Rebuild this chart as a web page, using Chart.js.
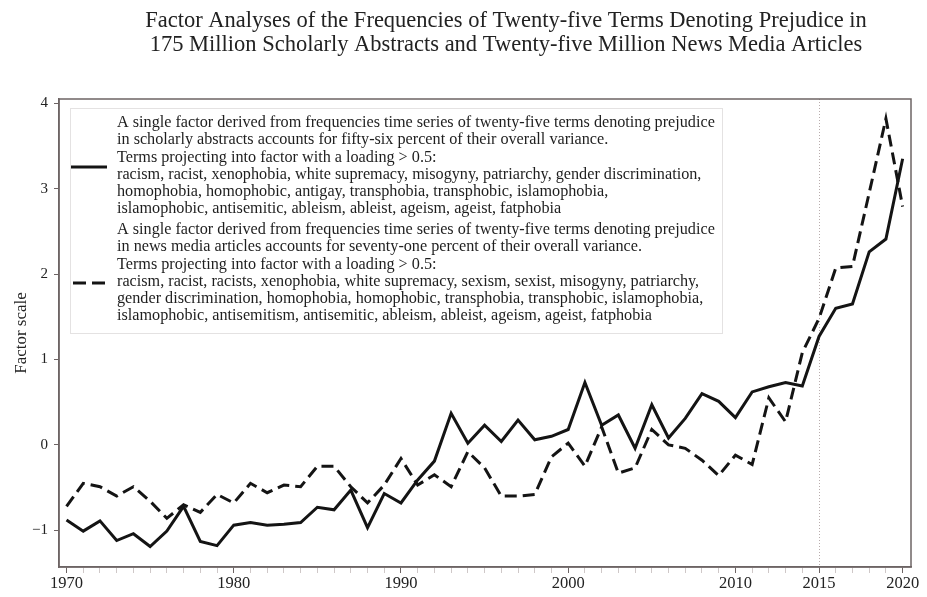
<!DOCTYPE html>
<html><head><meta charset="utf-8">
<script src="https://cdn.jsdelivr.net/npm/chart.js@4"></script>
<style>html,body{margin:0;padding:0;background:#fff}#wrap{width:927px;height:597px;position:relative}</style>
</head><body><div id="wrap"><canvas id="c" width="927" height="597"></canvas></div>
<script>
const titleLines = [
  "Factor Analyses of the Frequencies of Twenty-five Terms Denoting Prejudice in",
  "175 Million Scholarly Abstracts and Twenty-five Million News Media Articles"
];
const years = [1970,1971,1972,1973,1974,1975,1976,1977,1978,1979,1980,1981,1982,1983,1984,1985,1986,1987,1988,1989,1990,1991,1992,1993,1994,1995,1996,1997,1998,1999,2000,2001,2002,2003,2004,2005,2006,2007,2008,2009,2010,2011,2012,2013,2014,2015,2016,2017,2018,2019,2020];
const scholarly = [-0.88,-1.01,-0.89,-1.12,-1.04,-1.19,-1.01,-0.72,-1.13,-1.18,-0.94,-0.91,-0.94,-0.93,-0.91,-0.73,-0.76,-0.53,-0.97,-0.57,-0.68,-0.41,-0.19,0.37,0.02,0.23,0.04,0.29,0.06,0.10,0.18,0.73,0.23,0.35,-0.04,0.47,0.08,0.31,0.60,0.51,0.32,0.62,0.68,0.73,0.69,1.27,1.60,1.65,2.26,2.41,3.35];
const news = [-0.72,-0.45,-0.49,-0.60,-0.49,-0.66,-0.86,-0.70,-0.79,-0.58,-0.68,-0.45,-0.56,-0.47,-0.49,-0.25,-0.25,-0.49,-0.68,-0.47,-0.16,-0.47,-0.35,-0.49,-0.08,-0.27,-0.60,-0.60,-0.58,-0.14,0.02,-0.25,0.21,-0.33,-0.27,0.18,0.00,-0.04,-0.18,-0.36,-0.12,-0.23,0.55,0.27,1.08,1.48,2.07,2.09,2.95,3.82,2.79];
const labeledYears = [1970,1980,1990,2000,2010,2015,2020];
const yTickValues = [-1,0,1,2,3,4];
const markerYear = 2015;
const yAxisTitle = "Factor scale";
const seriesNames = ["Scholarly abstracts","News media articles"];
const legendScholarly = [
  "A single factor derived from frequencies time series of twenty-five terms denoting prejudice",
  "in scholarly abstracts accounts for fifty-six percent of their overall variance.",
  "Terms projecting into factor with a loading > 0.5:",
  "racism, racist, xenophobia, white supremacy, misogyny, patriarchy, gender discrimination,",
  "homophobia, homophobic, antigay, transphobia, transphobic, islamophobia,",
  "islamophobic, antisemitic, ableism, ableist, ageism, ageist, fatphobia"
];
const legendNews = [
  "A single factor derived from frequencies time series of twenty-five terms denoting prejudice",
  "in news media articles accounts for seventy-one percent of their overall variance.",
  "Terms projecting into factor with a loading > 0.5:",
  "racism, racist, racists, xenophobia, white supremacy, sexism, sexist, misogyny, patriarchy,",
  "gender discrimination, homophobia, homophobic, transphobia, transphobic, islamophobia,",
  "islamophobic, antisemitism, antisemitic, ableism, ableist, ageism, ageist, fatphobia"
];

const SERIF = '"Liberation Serif", "Times New Roman", serif';
const FRAME = '#6d6464';
const INK = '#141414';

const titlePlugin = {
  id: 'twoLineTitle',
  afterDraw(chart) {
    const ctx = chart.ctx;
    ctx.save();
    ctx.font = '22.5px ' + SERIF;
    ctx.fillStyle = '#222';
    ctx.textAlign = 'center';
    ctx.textBaseline = 'middle';
    ctx.fillText(titleLines[0], 506, 21);
    ctx.fillText(titleLines[1], 506, 45);
    ctx.restore();
  }
};

const decorPlugin = {
  id: 'decor',
  beforeDatasetsDraw(chart) {
    const ctx = chart.ctx, a = chart.chartArea;
    const x = chart.scales.x.getPixelForValue(markerYear);
    ctx.save();
    ctx.strokeStyle = '#b8acac';
    ctx.lineWidth = 1;
    ctx.setLineDash([1, 2]);
    ctx.beginPath();
    ctx.moveTo(Math.round(x) + 0.5, a.top);
    ctx.lineTo(Math.round(x) + 0.5, a.bottom);
    ctx.stroke();
    ctx.restore();
  },
  afterDraw(chart) {
    const ctx = chart.ctx, a = chart.chartArea;
    ctx.save();
    ctx.strokeStyle = FRAME;
    ctx.lineWidth = 1.5;
    ctx.strokeRect(a.left, a.top, a.right - a.left, a.bottom - a.top);
    const bx = a.left + 11, by = a.top + 9, bw = 652, bh = 225;
    ctx.strokeStyle = '#e4e2e2';
    ctx.lineWidth = 1;
    ctx.strokeRect(bx + 0.5, by + 0.5, bw, bh);
    ctx.fillStyle = '#1e1e1e';
    ctx.font = '16.2px ' + SERIF;
    ctx.textAlign = 'left';
    ctx.textBaseline = 'middle';
    const tx = a.left + 58;
    const step = 17.2;
    const groups = [legendScholarly, legendNews];
    const starts = [a.top + 24, a.top + 131];
    groups.forEach((lines, g) => {
      lines.forEach((t, i) => ctx.fillText(t, tx, starts[g] + i * step));
    });
    ctx.strokeStyle = INK;
    ctx.lineWidth = 3;
    ctx.beginPath();
    ctx.moveTo(a.left + 12, a.top + 68);
    ctx.lineTo(a.left + 48, a.top + 68);
    ctx.stroke();
    ctx.setLineDash([13, 6]);
    ctx.beginPath();
    ctx.moveTo(a.left + 14, a.top + 184);
    ctx.lineTo(a.left + 48, a.top + 184);
    ctx.stroke();
    ctx.restore();
  }
};

const toPoints = arr => years.map((yr, i) => ({x: yr, y: arr[i]}));

new Chart(document.getElementById('c'), {
  type: 'line',
  data: {
    datasets: [
      {label: seriesNames[0], data: toPoints(scholarly), borderColor: INK, borderWidth: 3, pointRadius: 0, tension: 0, fill: false},
      {label: seriesNames[1], data: toPoints(news), borderColor: INK, borderWidth: 3, borderDash: [12, 6], pointRadius: 0, tension: 0, fill: false}
    ]
  },
  options: {
    responsive: false,
    animation: false,
    devicePixelRatio: 1,
    layout: {padding: {left: 0, right: 16, top: 99, bottom: 0}},
    plugins: {legend: {display: false}, tooltip: {enabled: false}, title: {display: false}},
    scales: {
      x: {
        type: 'linear', min: 1969.55, max: 2020.5,
        afterBuildTicks: s => { s.ticks = years.map(v => ({value: v})); },
        afterFit: s => { s.height = 30; },
        ticks: {
          autoSkip: false, maxRotation: 0, padding: 1,
          color: '#222', font: {family: SERIF, size: 16.5},
          callback: v => labeledYears.includes(v) ? String(v) : ''
        },
        grid: {
          drawOnChartArea: false, drawTicks: true, tickLength: 6,
          color: c => (c.tick && labeledYears.includes(c.tick.value)) ? FRAME : '#cfc8c8'
        },
        border: {display: true, color: FRAME, width: 1.5}
      },
      y: {
        type: 'linear', min: -1.43, max: 4.05,
        afterBuildTicks: s => { s.ticks = yTickValues.map(v => ({value: v})); },
        afterFit: s => { s.width = 59; },
        ticks: {padding: 6, color: '#222', font: {family: SERIF, size: 15},
          callback: v => String(v).replace('-', '\u2212')},
        grid: {drawOnChartArea: false, drawTicks: true, tickLength: 5, color: FRAME},
        border: {display: true, color: FRAME, width: 1.5},
        title: {display: true, text: yAxisTitle, color: '#222', font: {family: SERIF, size: 17}, padding: {top: 11, bottom: 0}}
      }
    }
  },
  plugins: [titlePlugin, decorPlugin]
});
</script></body></html>
